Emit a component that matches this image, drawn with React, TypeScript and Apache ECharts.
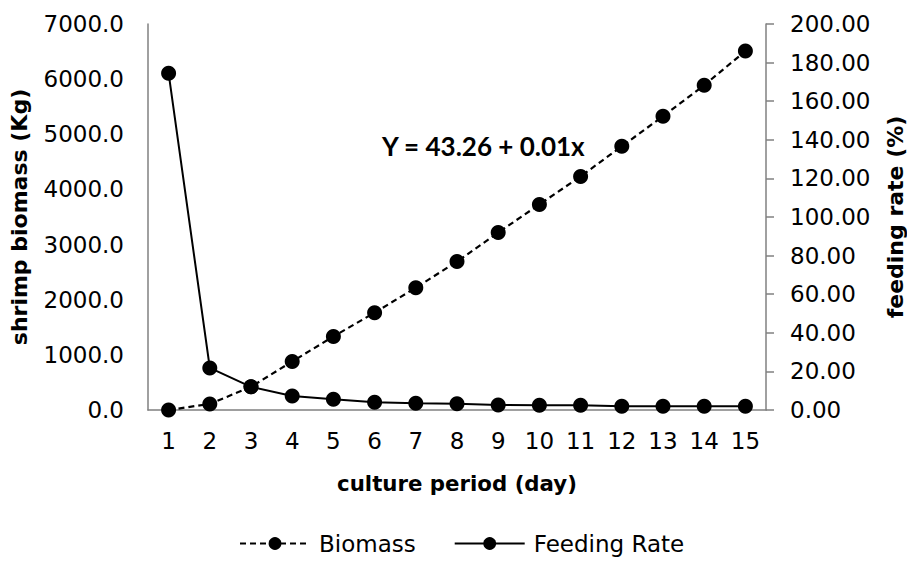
import React, { useEffect, useRef } from "react";
import * as echarts from "echarts";

const days = ["1", "2", "3", "4", "5", "6", "7", "8", "9", "10", "11", "12", "13", "14", "15"];
const biomass = [0, 110, 420, 880, 1333, 1764, 2218, 2691, 3218, 3727, 4236, 4782, 5327, 5890, 6509];
const feedingRate = [174.5, 21.8, 12.0, 7.3, 5.6, 4.0, 3.5, 3.2, 2.6, 2.5, 2.5, 2.0, 2.0, 2.0, 2.0];
const equationText = "Y = 43.26 + 0.01x";

const FONT = "DejaVu Sans";
const AXIS_COLOR = "#808080";
const TEXT_COLOR = "#000000";

export default function App() {
  const ref = useRef<HTMLDivElement>(null);
  useEffect(() => {
    if (!ref.current) return;
    const chart = echarts.init(ref.current, null, { renderer: "svg" });
    chart.setOption({
      animation: false,
      textStyle: { fontFamily: FONT },
      grid: {
        left: 148,
        right: 141,
        top: 24,
        bottom: 151,
        containLabel: false,
        outerBoundsMode: "none",
      },
      legend: {
        top: 527,
        left: 234,
        itemWidth: 70,
        itemHeight: 16,
        itemGap: 38,
        textStyle: { fontFamily: FONT, fontSize: 23, color: TEXT_COLOR, padding: [0, 0, 0, 4] },
        data: ["Biomass", "Feeding Rate"],
      },
      xAxis: {
        type: "category",
        data: days,
        boundaryGap: true,
        name: "culture period (day)",
        nameLocation: "middle",
        nameGap: 63,
        nameTextStyle: { fontFamily: FONT, fontSize: 21.3, fontWeight: "bold", color: TEXT_COLOR },
        axisLine: { lineStyle: { color: AXIS_COLOR, width: 1.5 } },
        axisTick: { show: false },
        axisLabel: { interval: 0, margin: 19, fontSize: 23, color: TEXT_COLOR, fontFamily: FONT },
        splitLine: { show: false },
      },
      yAxis: [
        {
          type: "value",
          min: 0,
          max: 7000,
          interval: 1000,
          position: "left",
          name: "shrimp biomass (Kg)",
          nameLocation: "middle",
          nameRotate: 90,
          nameGap: 118,
          nameTextStyle: { fontFamily: FONT, fontSize: 22, fontWeight: "bold", color: TEXT_COLOR },
          axisLine: { show: true, lineStyle: { color: AXIS_COLOR, width: 1.5 } },
          axisTick: { show: false },
          axisLabel: {
            margin: 24,
            fontSize: 23,
            color: TEXT_COLOR,
            fontFamily: FONT,
            formatter: (v: number) => v.toFixed(1),
          },
          splitLine: { show: false },
        },
        {
          type: "value",
          min: 0,
          max: 200,
          interval: 20,
          position: "right",
          name: "feeding rate (%)",
          nameLocation: "middle",
          nameRotate: 90,
          nameGap: 118,
          nameTextStyle: { fontFamily: FONT, fontSize: 22, fontWeight: "bold", color: TEXT_COLOR },
          axisLine: { show: true, lineStyle: { color: AXIS_COLOR, width: 1.5 } },
          axisTick: { show: true, length: 8, lineStyle: { color: AXIS_COLOR, width: 1.5 } },
          axisLabel: {
            margin: 24,
            fontSize: 23,
            color: TEXT_COLOR,
            fontFamily: FONT,
            formatter: (v: number) => v.toFixed(2),
          },
          splitLine: { show: false },
        },
      ],
      graphic: [
        {
          type: "text",
          left: 382,
          top: 133,
          style: {
            text: equationText,
            fontFamily: "Lato",
            fontWeight: "bold",
            fontSize: 26,
            fill: "#000",
          },
        },
      ],
      series: [
        {
          name: "Biomass",
          type: "line",
          yAxisIndex: 0,
          data: biomass,
          symbol: "circle",
          symbolSize: 15,
          itemStyle: { color: "#000" },
          lineStyle: { color: "#000", width: 2.2, type: [6, 4] },
          z: 3,
        },
        {
          name: "Feeding Rate",
          type: "line",
          yAxisIndex: 1,
          data: feedingRate,
          symbol: "circle",
          symbolSize: 15,
          itemStyle: { color: "#000" },
          lineStyle: { color: "#000", width: 2 },
          z: 4,
        },
      ],
    });
    return () => chart.dispose();
  }, []);
  return (
    <div
      ref={ref}
      style={{ position: "fixed", left: 0, top: 0, width: 907, height: 561, background: "#fff" }}
    />
  );
}
